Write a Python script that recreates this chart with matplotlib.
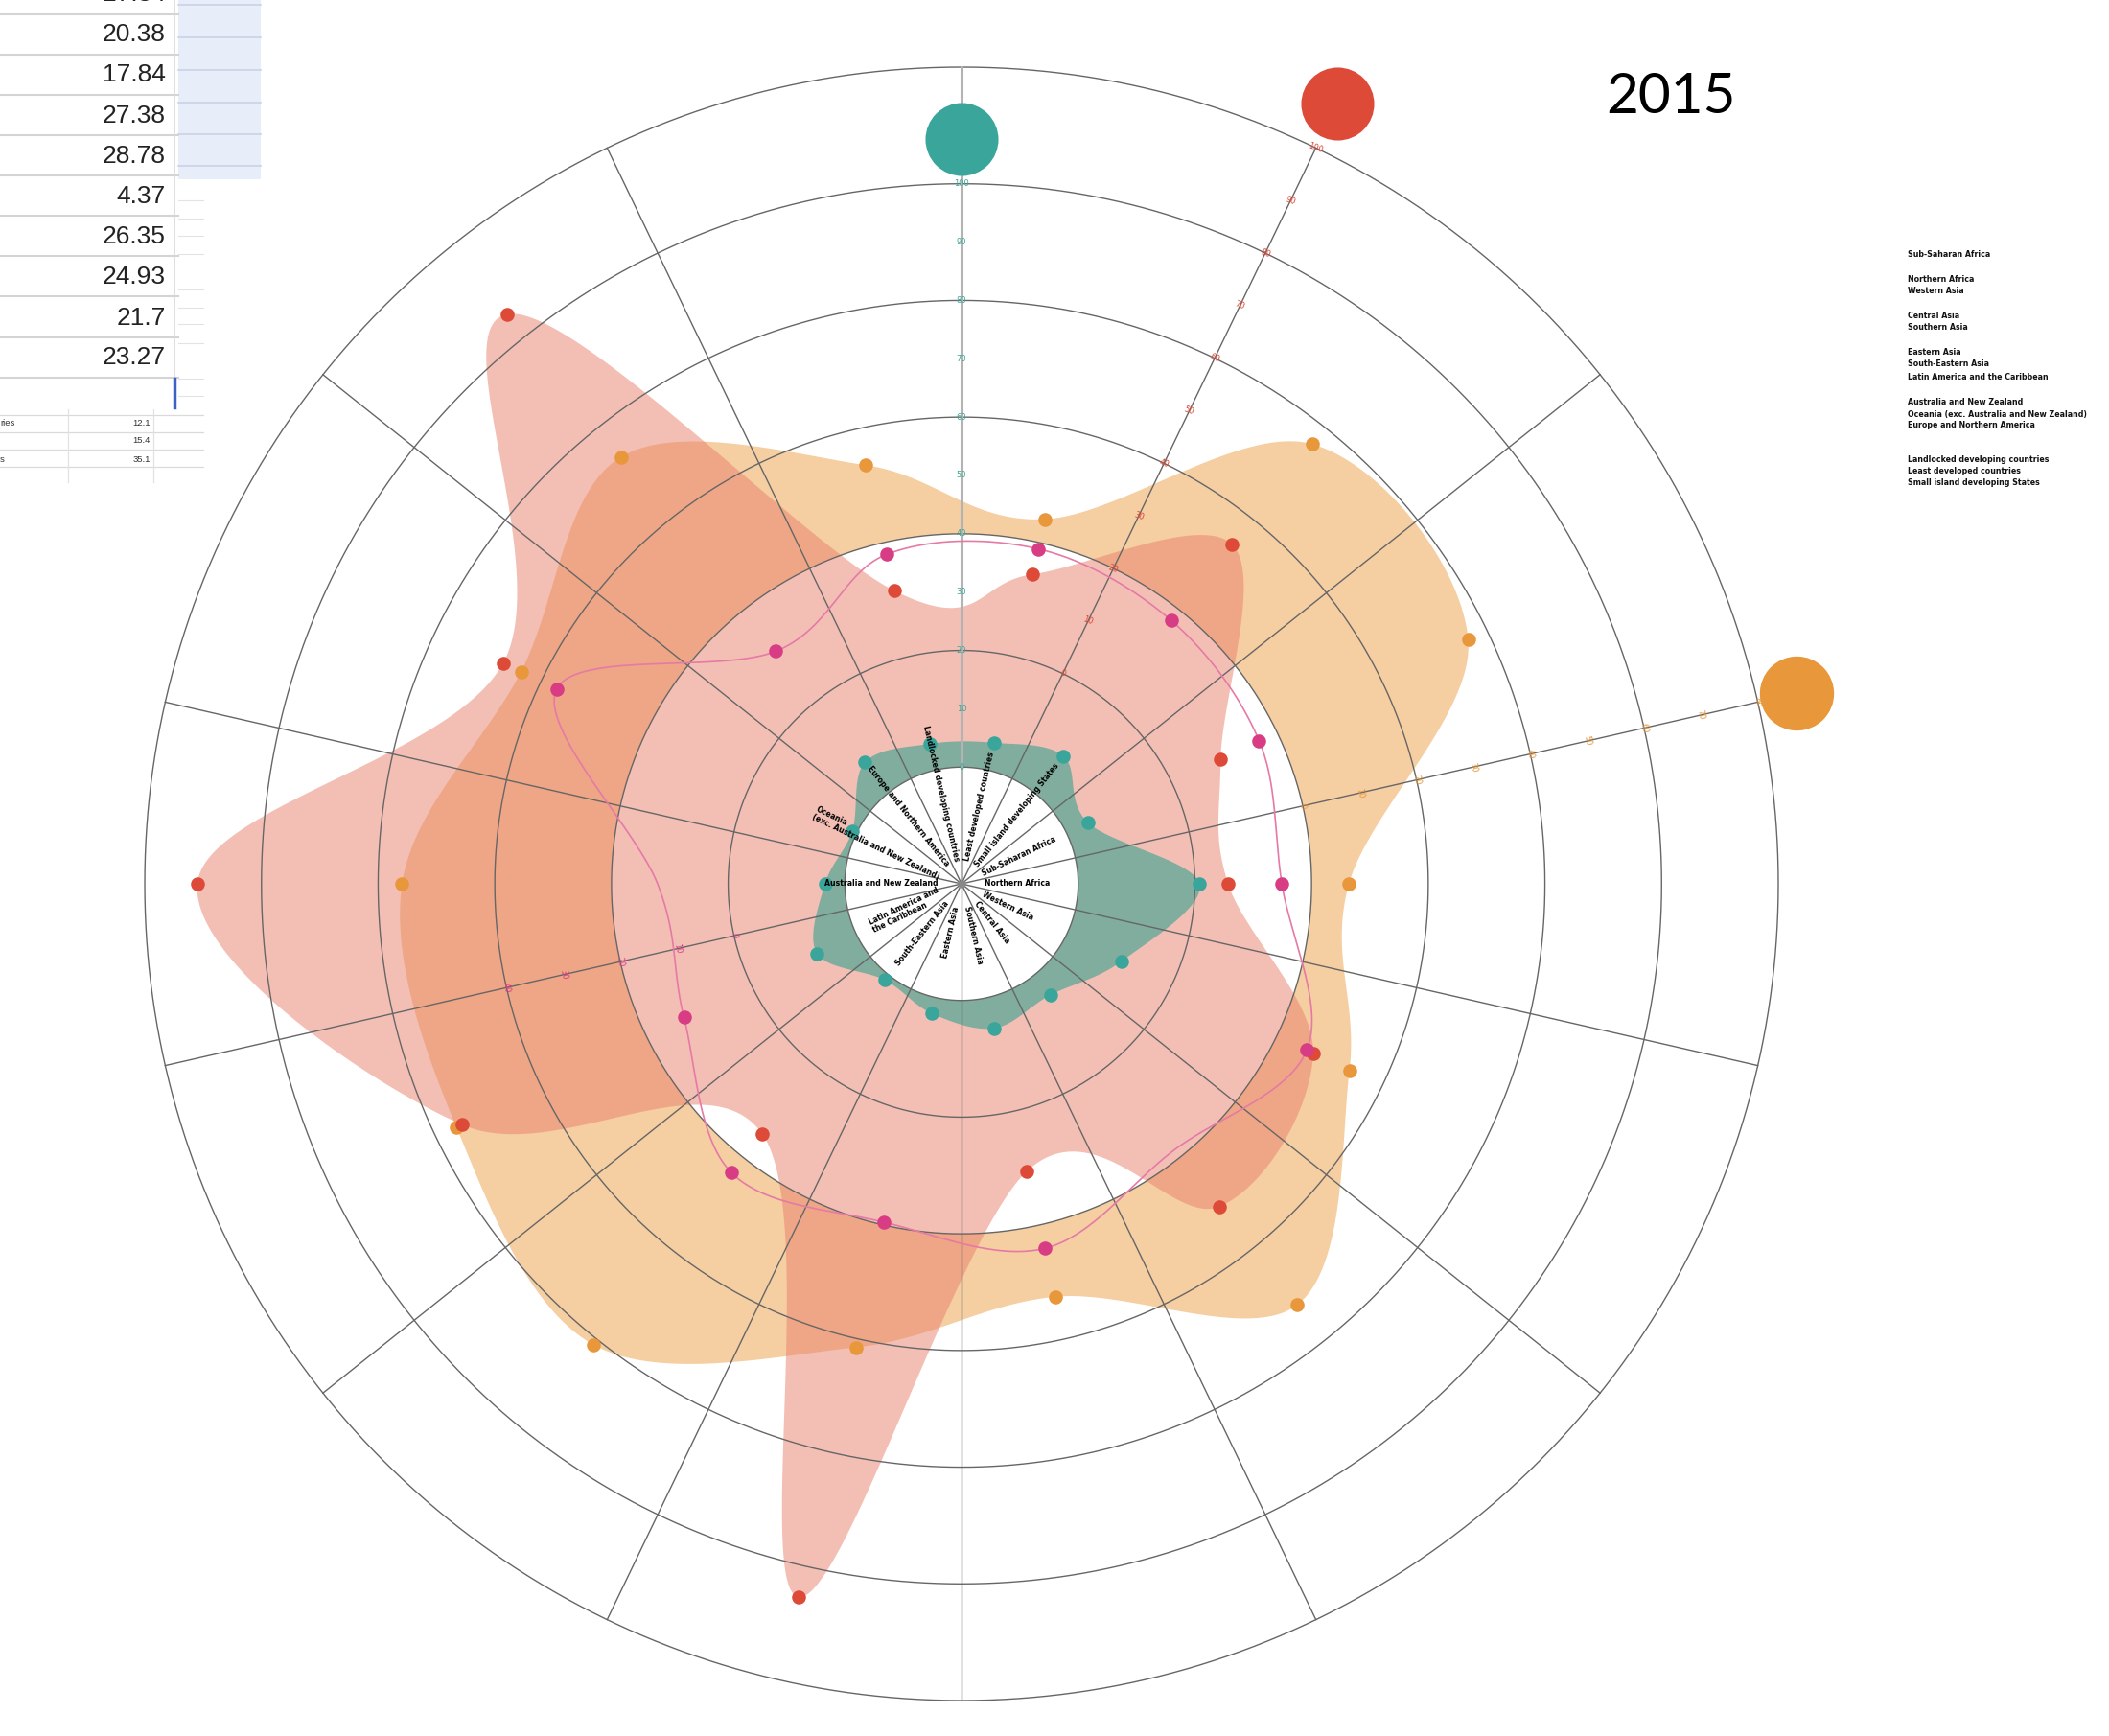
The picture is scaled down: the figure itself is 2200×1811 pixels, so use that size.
import matplotlib
matplotlib.use("Agg")
import matplotlib.pyplot as plt
import numpy as np
from matplotlib import font_manager

# ---- data ----
categories = ["Least developed countries", "Small island developing States",
              "Sub-Saharan Africa", "Northern Africa", "Western Asia",
              "Central Asia", "Southern Asia", "Eastern Asia",
              "South-Eastern Asia", "Latin America and\nthe Caribbean",
              "Australia and New Zealand",
              "Oceania\n(exc. Australia and New Zealand)",
              "Europe and Northern America", "Landlocked developing countries"]

teal_vals = [4.8, 8.0, 4.1, 20.8, 10.5, 4.4, 5.4, 2.8, 1.1, 7.5, 3.4, 0.8, 6.6, 4.6]
red_vals = [14.4, 34.4, 9.3, 5.7, 26.9, 30.8, 10.5, 85.4, 14.8, 55.1, 91.0, 47.2, 84.9, 11.5]
orange_vals = [4.1, 36.4, 36.4, 6.4, 13.8, 32.3, 12.6, 21.5, 41.1, 36.1, 35.9, 23.8, 33.6, 13.6]
pink_vals = [18.9, 17.7, 16.6, 14.9, 25.7, 18.4, 24.1, 19.5, 23.3, 12.8, 12.1, 37.0, 11.0, 17.9]
pink_no_dot = [5, 10]

teal_ticks = list(range(0, 101, 10))
red_ticks = list(range(0, 101, 10))
orange_ticks = list(range(0, 81, 10))
pink_ticks = list(range(0, 41, 10))

legend_lines = ["Sub-Saharan Africa", "Northern Africa", "Western Asia",
                "Central Asia", "Southern Asia", "Eastern Asia",
                "South-Eastern Asia", "Latin America and the Caribbean",
                "Australia and New Zealand",
                "Oceania (exc. Australia and New Zealand)",
                "Europe and Northern America",
                "Landlocked developing countries", "Least developed countries",
                "Small island developing States"]
legend_y = [266, 291, 303, 329, 341, 367, 379, 393, 420, 432, 443, 480, 492, 503]

table_vals = ["17.34", "20.38", "17.84", "27.38", "28.78", "4.37", "26.35",
              "24.93", "21.7", "23.27"]
table_y = [-6, 36, 78, 121, 163, 205, 247, 289, 332, 373]
small_labels = ["ries", "", "s"]
small_vals = ["12.1", "15.4", "35.1"]
small_y = [442, 460, 479]

year = "2015"

# ---- colours / fonts ----
TEAL = "#3aa69b"
RED = "#dd4a38"
ORANGE = "#e8973a"
PINK = "#d83c84"
GRID = "#666666"

names = {f.name for f in font_manager.fontManager.ttflist}
def pick(*fams):
    for f in fams:
        if f in names:
            return f
    return "DejaVu Sans"
cond = pick("Liberation Sans Narrow", "DejaVu Sans")
sans = pick("Liberation Sans", "DejaVu Sans")
title_font = pick("Lato", "Open Sans", "DejaVu Sans")

n = len(categories)
step = 2 * np.pi / n
angles = (np.arange(n) + 0.5) * step


def catmull_closed(theta, r, m=60):
    x = r * np.sin(theta)
    y = r * np.cos(theta)
    P = np.column_stack([x, y])
    N = len(P)
    out = []
    t = np.linspace(0, 1, m, endpoint=False)[:, None]
    for i in range(N):
        p0, p1, p2, p3 = P[(i - 1) % N], P[i], P[(i + 1) % N], P[(i + 2) % N]
        pt = 0.5 * (2 * p1 + (-p0 + p2) * t + (2 * p0 - 5 * p1 + 4 * p2 - p3) * t ** 2
                    + (-p0 + 3 * p1 - 3 * p2 + p3) * t ** 3)
        out.append(pt)
    out = np.vstack(out)
    out = np.vstack([out, out[:1]])
    return np.arctan2(out[:, 0], out[:, 1]), np.hypot(out[:, 0], out[:, 1])


fig = plt.figure(figsize=(22, 18.11), dpi=100)
fig.patch.set_facecolor("white")

# overlay axes in pixel coordinates for table / legend
ov = fig.add_axes([0, 0, 1, 1])
ov.set_xlim(0, 2200)
ov.set_ylim(1811, 0)
ov.axis("off")

# polar chart: centre (1003, 922) px, outer ring radius 852 px = 7 units
ax = fig.add_axes([0.06864, 0.02043, 0.77455, 0.94092], projection="polar")
ax.set_theta_zero_location("N")
ax.set_theta_direction(-1)
ax.set_ylim(0, 7)
ax.axis("off")

# series -> radius (each series has its own origin ring, 20 units per ring)
teal_r = 1 + np.array(teal_vals) / 20
red_r = 2 + np.array(red_vals) / 20
orange_r = 3 + np.array(orange_vals) / 20
pink_r = 2 + np.array(pink_vals) / 20

# orange area: from its zero ring out to the curve
th, rr = catmull_closed(angles, orange_r)
inner_th = np.linspace(angles[0], angles[0] + 2 * np.pi, 721)
ax.fill(np.concatenate([th, inner_th[::-1]]),
        np.concatenate([rr, np.full_like(inner_th, 3.0)]),
        color="#f5cea2", lw=0, zorder=1)
th, rr = catmull_closed(angles, red_r)
ax.fill(th, rr, color="#e8806c", alpha=0.5, lw=0, zorder=2)
th, rr = catmull_closed(angles, teal_r)
ax.fill(th, rr, color="#80ad9e", lw=0, zorder=3)

full = np.linspace(0, 2 * np.pi, 721)
ax.fill(full, np.ones_like(full), color="white", lw=0, zorder=4)

for k in range(1, 8):
    ax.plot(full, np.full_like(full, k), color=GRID, lw=1.0, zorder=5, clip_on=False)
for k in range(n):
    a = k * step
    if k == 0:
        ax.plot([a, a], [0, 7], color="#b3b3b3", lw=2.2, zorder=5, clip_on=False)
    else:
        ax.plot([a, a], [0, 7], color=GRID, lw=1.0, zorder=5, clip_on=False)
ax.scatter([0], [0], s=25, color="#888888", zorder=6)

th, rr = catmull_closed(angles, pink_r)
ax.plot(th, rr, color="#e57aa5", lw=1.2, zorder=6)

ax.scatter(angles, orange_r, s=110, color=ORANGE, lw=0, zorder=7)
ax.scatter(angles, red_r, s=110, color=RED, lw=0, zorder=7)
ax.scatter(angles, teal_r, s=110, color=TEAL, lw=0, zorder=7)
pk = [i for i in range(n) if i not in pink_no_dot]
ax.scatter(angles[pk], pink_r[pk], s=110, color=PINK, lw=0, zorder=7)

# axis tick labels
for v in teal_ticks:
    ax.text(0, 1 + v / 20, str(v), color=TEAL, fontsize=6, ha="center",
            va="center", zorder=8)
for v in red_ticks:
    ax.text(step, 2 + v / 20, str(v), color=RED, fontsize=6, ha="center",
            va="center", rotation=-20, zorder=8)
for v in orange_ticks:
    ax.text(3 * step, 3 + v / 20, str(v), color=ORANGE, fontsize=6, ha="center",
            va="center", rotation=-77, zorder=8)
for v in pink_ticks:
    ax.text(10 * step, 2 + v / 20, str(v), color=PINK, fontsize=6, ha="center",
            va="center", rotation=-77, zorder=8)

# big series markers
ax.scatter([0], [6.38], s=3000, color=TEAL, lw=0, zorder=8, clip_on=False)
ax.scatter([step], [7.42], s=3000, color=RED, lw=0, zorder=8, clip_on=False)
ax.scatter([3 * step], [7.34], s=3100, color=ORANGE, lw=0, zorder=8, clip_on=False)

# category labels in the centre
for a, lab in zip(angles, categories):
    deg = np.degrees(a)
    if deg < 180:
        rot, ha = 90 - deg, "left"
    else:
        rot, ha = 270 - deg, "right"
    ax.text(a, 0.2, lab, rotation=rot, rotation_mode="anchor", ha=ha,
            va="center", fontsize=5.6, family=cond, fontweight="bold",
            multialignment="left", linespacing=1.0, zorder=9)

# year
ov.text(1743, 101, year, fontsize=42, family=title_font, ha="center",
        va="center", color="black")

# legend
for y, lab in zip(legend_y, legend_lines):
    ov.text(1990, y, lab, fontsize=5.7, family=cond, fontweight="bold",
            ha="left", va="center", color="#111111")

# spreadsheet fragment, top left
ov.fill_between([186, 272], 0, 187, color="#e8eef9", lw=0)
for y in [5, 39, 73, 107, 140, 173]:
    ov.plot([186, 272], [y, y], color="#c9d3e8", lw=1.2)
for y in [209, 228, 246, 265, 302, 321, 338, 358, 395, 413]:
    ov.plot([186, 212], [y, y], color="#e3e3e3", lw=0.8)
for y in [15, 57, 99, 141, 183, 225, 267, 309, 352, 394]:
    ov.plot([0, 186], [y, y], color="#d4d4d4", lw=1.5)
ov.plot([182, 182], [0, 395], color="#d9d9d9", lw=1.2)
ov.plot([182, 182], [395, 425], color="#3b62c4", lw=2.5)
for y, v in zip(table_y, table_vals):
    ov.text(173, y, v, fontsize=19, family=sans, ha="right", va="center",
            color="#222222")

for y in [433, 451, 469, 487]:
    ov.plot([0, 212], [y, y], color="#dadada", lw=0.9)
for x in [71, 160]:
    ov.plot([x, x], [427, 503], color="#e2e2e2", lw=0.9)
for y, lab, v in zip(small_y, small_labels, small_vals):
    ov.text(0, y, lab, fontsize=6.8, family=sans, ha="left", va="center",
            color="#333333")
    ov.text(157, y, v, fontsize=6.8, family=sans, ha="right", va="center",
            color="#333333")

fig.savefig("out.png", dpi=100, facecolor="white")
